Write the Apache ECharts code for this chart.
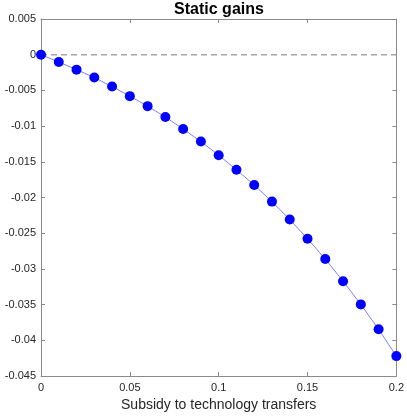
<!DOCTYPE html>
<html>
<head>
<meta charset="utf-8">
<script src="https://cdn.jsdelivr.net/npm/echarts@6/dist/echarts.min.js"></script>
<style>
  html, body { margin: 0; padding: 0; background: #fff; }
  #chart { width: 407px; height: 417px; }
</style>
</head>
<body>
<div id="chart"></div>
<script>
// subsidy levels and static gains
var subsidy = [0, 0.01, 0.02, 0.03, 0.04, 0.05, 0.06, 0.07, 0.08, 0.09, 0.1,
               0.11, 0.12, 0.13, 0.14, 0.15, 0.16, 0.17, 0.18, 0.19, 0.2];
var gains = [0, -0.00102, -0.00209, -0.0032, -0.00446, -0.0058, -0.0072, -0.00873,
             -0.0104, -0.01216, -0.01407, -0.01611, -0.01824, -0.02057, -0.02307,
             -0.02577, -0.0286, -0.03171, -0.03496, -0.03844, -0.0422];
var zeroLineX = [0, 0.2];
var zeroLineY = [0, 0];

var font = 'Liberation Sans, Arial, Helvetica, sans-serif';
var axisColor = '#8a8a8a';
var textColor = '#262626';

function fmt(v){
    return String(+v.toFixed(3));
}

var myChart = echarts.init(document.getElementById('chart'));

var option = {
    backgroundColor: '#fff',
    animation: false,
    title: {
        text: 'Static gains',
        left: 219,
        top: 2,
        padding: 0,
        textAlign: 'center',
        textStyle: { fontFamily: font, fontSize: 16, fontWeight: 'bold', color: '#000' }
    },
    grid: { left: 41, right: 10, top: 19, bottom: 39 },
    xAxis: [{
        type: 'value',
        position: 'bottom',
        min: 0, max: 0.2, interval: 0.05,
        name: 'Subsidy to technology transfers',
        nameLocation: 'middle',
        nameGap: 21,
        nameTextStyle: { fontFamily: font, fontSize: 14, color: textColor },
        axisLine: { onZero: false, lineStyle: { color: axisColor, width: 1 } },
        axisTick: { inside: true, length: 4, lineStyle: { color: axisColor } },
        axisLabel: { fontFamily: font, fontSize: 11, color: textColor, margin: 6, formatter: fmt },
        splitLine: { show: false }
    }, {
        type: 'value',
        position: 'top',
        min: 0, max: 0.2, interval: 0.05,
        axisLine: { show: true, onZero: false, lineStyle: { color: axisColor, width: 1 } },
        axisTick: { show: true, inside: true, length: 4, lineStyle: { color: axisColor } },
        axisLabel: { show: false },
        splitLine: { show: false }
    }],
    yAxis: [{
        type: 'value',
        position: 'left',
        min: -0.045, max: 0.005, interval: 0.005,
        axisLine: { show: true, onZero: false, lineStyle: { color: axisColor, width: 1 } },
        axisTick: { show: true, inside: true, length: 4, lineStyle: { color: axisColor } },
        axisLabel: { fontFamily: font, fontSize: 11, color: textColor, margin: 5, formatter: fmt },
        splitLine: { show: false }
    }, {
        type: 'value',
        position: 'right',
        min: -0.045, max: 0.005, interval: 0.005,
        axisLine: { show: true, onZero: false, lineStyle: { color: axisColor, width: 1 } },
        axisTick: { show: true, inside: true, length: 4, lineStyle: { color: axisColor } },
        axisLabel: { show: false },
        splitLine: { show: false }
    }],
    series: [{
        type: 'line',
        name: 'zero',
        data: zeroLineX.map(function(x, i){ return [x, zeroLineY[i]]; }),
        showSymbol: false,
        lineStyle: { color: '#a6a6a6', width: 1.5, type: [6, 4] },
        z: 1
    }, {
        type: 'line',
        name: 'gains',
        data: subsidy.map(function(x, i){ return [x, gains[i]]; }),
        symbol: 'circle',
        symbolSize: 10,
        itemStyle: { color: '#0000ff' },
        lineStyle: { color: '#8080ff', width: 1 },
        z: 3
    }]
};

myChart.setOption(option);
</script>
</body>
</html>
